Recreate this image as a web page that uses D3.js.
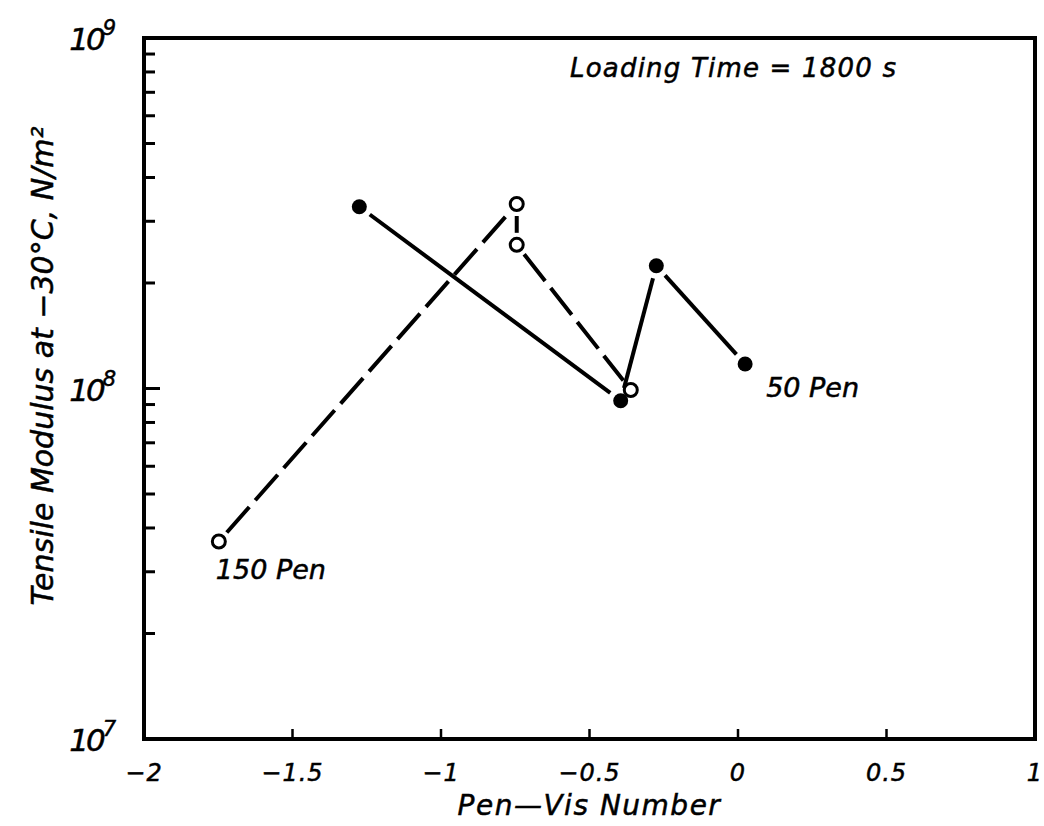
<!DOCTYPE html>
<html>
<head>
<meta charset="utf-8">
<script src="https://cdn.jsdelivr.net/npm/d3@7"></script>
<style>
  html, body { margin: 0; padding: 0; background: #fff; }
  text { font-family: "DejaVu Sans", sans-serif; font-style: italic; fill: #000; stroke: #000; stroke-width: 0.5px; }
</style>
</head>
<body>
<svg id="chart" width="1044" height="826"></svg>
<script>
// Pen-Vis number vs tensile modulus (N/m^2), loading time 1800 s
const penVis150 = [-1.748, -0.745, -0.745, -0.361];
const modulus150 = [3.66e7, 3.36e8, 2.57e8, 9.9e7];
const penVis50 = [-1.275, -0.395, -0.275, 0.024];
const modulus50 = [3.30e8, 9.23e7, 2.24e8, 1.175e8];

const xTickValues = [-2, -1.5, -1, -0.5, 0, 0.5, 1];
const xTickLabels = ["\u22122", "\u22121.5", "\u22121", "\u22120.5", "0", "0.5", "1"];
const yDecades = [1e7, 1e8, 1e9];
const yExponents = ["7", "8", "9"];
const yMinorMultipliers = [2, 3, 4, 5, 6, 7, 8, 9];

const svg = d3.select("#chart");
const plotLeft = 144, plotRight = 1035, plotTop = 38, plotBottom = 739;

const x = d3.scaleLinear().domain([-2, 1]).range([plotLeft, plotRight]);
const y = d3.scaleLog().domain([1e7, 1e9]).range([plotBottom, plotTop]);

// frame
svg.append("rect")
  .attr("x", plotLeft).attr("y", plotTop)
  .attr("width", plotRight - plotLeft).attr("height", plotBottom - plotTop)
  .attr("fill", "none").attr("stroke", "#000").attr("stroke-width", 4);

// x ticks (inward) and labels
svg.append("g").selectAll("line").data(xTickValues).join("line")
  .attr("x1", d => x(d)).attr("x2", d => x(d))
  .attr("y1", plotBottom).attr("y2", plotBottom - 10)
  .attr("stroke", "#000").attr("stroke-width", 2.5);
svg.append("g").selectAll("text").data(xTickValues).join("text")
  .attr("x", d => x(d)).attr("y", plotBottom + 42)
  .attr("text-anchor", "middle")
  .attr("font-size", 24)
  .attr("letter-spacing", 1)
  .text((d, i) => xTickLabels[i]);

// y ticks: decades and minor ticks
const yMinor = [];
yDecades.slice(0, -1).forEach(dec => yMinorMultipliers.forEach(m => yMinor.push(dec * m)));
svg.append("g").selectAll("line").data(yDecades).join("line")
  .attr("x1", plotLeft).attr("x2", plotLeft + 16)
  .attr("y1", d => y(d)).attr("y2", d => y(d))
  .attr("stroke", "#000").attr("stroke-width", 3);
svg.append("g").selectAll("line").data(yMinor).join("line")
  .attr("x1", plotLeft).attr("x2", plotLeft + 11)
  .attr("y1", d => y(d)).attr("y2", d => y(d))
  .attr("stroke", "#000").attr("stroke-width", 3);

const yLab = svg.append("g").selectAll("text").data(yDecades).join("text")
  .attr("x", 116).attr("y", d => y(d) + 12)
  .attr("text-anchor", "end")
  .attr("font-size", 31)
  .attr("letter-spacing", -3);
yLab.append("tspan").text("10");
yLab.append("tspan").attr("dy", -15).attr("font-size", 21).attr("letter-spacing", 0)
  .text((d, i) => yExponents[i]);

// axis titles
svg.append("text")
  .attr("x", x(-0.5)).attr("y", 815)
  .attr("text-anchor", "middle")
  .attr("font-size", 28)
  .attr("letter-spacing", 1.5)
  .text("Pen\u2014Vis Number");

svg.append("text")
  .attr("transform", "translate(53," + 366 + ") rotate(-90)")
  .attr("text-anchor", "middle")
  .attr("font-size", 30)
  .text("Tensile Modulus at \u221230\u00b0C, N/m\u00b2");

svg.append("text")
  .attr("x", 570).attr("y", 77)
  .attr("font-size", 26)
  .attr("letter-spacing", 1.2)
  .text("Loading Time = 1800 s");

// connecting lines, stopped short of the markers
function segments(xs, ys, gap) {
  const pts = xs.map((v, i) => [x(v), y(ys[i])]);
  const out = [];
  for (let i = 0; i < pts.length - 1; i++) {
    const [x1, y1] = pts[i], [x2, y2] = pts[i + 1];
    const len = Math.hypot(x2 - x1, y2 - y1);
    const ux = (x2 - x1) / len, uy = (y2 - y1) / len;
    out.push([x1 + ux * gap, y1 + uy * gap, x2 - ux * gap, y2 - uy * gap]);
  }
  return out;
}

svg.append("g").selectAll("line").data(segments(penVis150, modulus150, 12)).join("line")
  .attr("x1", d => d[0]).attr("y1", d => d[1])
  .attr("x2", d => d[2]).attr("y2", d => d[3])
  .attr("stroke", "#000").attr("stroke-width", 4)
  .attr("stroke-dasharray", "34,9");

svg.append("g").selectAll("line").data(segments(penVis50, modulus50, 13)).join("line")
  .attr("x1", d => d[0]).attr("y1", d => d[1])
  .attr("x2", d => d[2]).attr("y2", d => d[3])
  .attr("stroke", "#000").attr("stroke-width", 4);

// markers
svg.append("g").selectAll("circle").data(penVis50).join("circle")
  .attr("cx", d => x(d)).attr("cy", (d, i) => y(modulus50[i]))
  .attr("r", 7.5).attr("fill", "#000");

svg.append("g").selectAll("circle").data(penVis150).join("circle")
  .attr("cx", d => x(d)).attr("cy", (d, i) => y(modulus150[i]))
  .attr("r", 6.5).attr("fill", "#fff").attr("stroke", "#000").attr("stroke-width", 3);

// series labels
svg.append("text")
  .attr("x", x(penVis150[0]) - 3).attr("y", y(modulus150[0]) + 38)
  .attr("font-size", 27)
  .text("150 Pen");
svg.append("text")
  .attr("x", x(penVis50[3]) + 21).attr("y", y(modulus50[3]) + 33)
  .attr("font-size", 27)
  .text("50 Pen");
</script>
</body>
</html>
